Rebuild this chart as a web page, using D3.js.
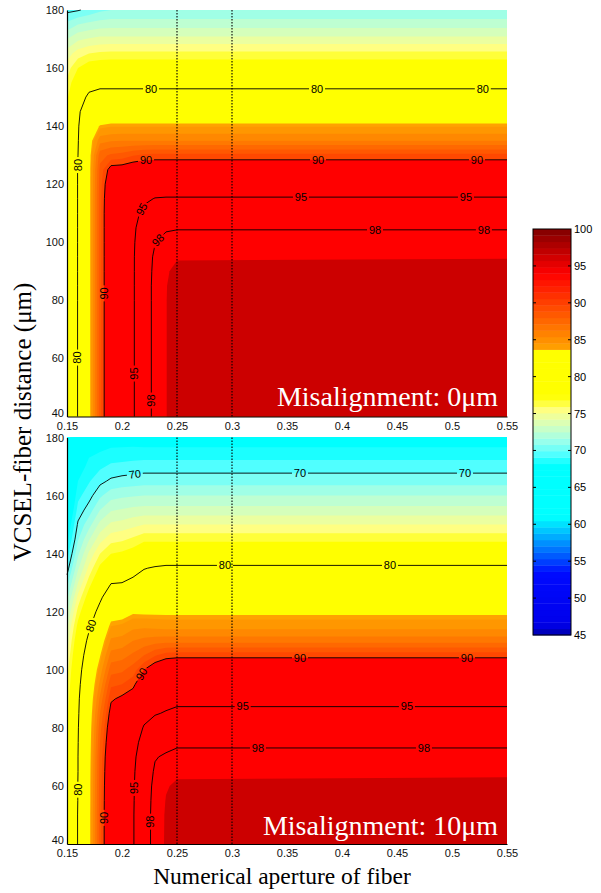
<!DOCTYPE html>
<html>
<head>
<meta charset="utf-8">
<title>Coupling efficiency vs NA and distance</title>
<script src="https://cdn.jsdelivr.net/npm/d3@7"></script>
<style>
  body { margin: 0; background: #fff; }
  svg { display: block; }
</style>
</head>
<body>
<script>
// grid columns (numerical aperture) shared by both panels
var naCols = [0.15, 0.16, 0.17, 0.18, 0.19, 0.20, 0.21, 0.22, 0.23, 0.24, 0.25, 0.55];

// misalignment 0um : rows of efficiency (%) for each distance
var distRows0 = [40, 80, 85, 90, 95, 100, 105, 110, 115, 120, 125, 130, 135, 140, 145, 150, 155, 160, 165, 170, 175, 180];
var eff0 = [
  [77.5, 80.1, 83.0, 88.6, 92.3, 93.9, 94.7, 97.2, 98.4, 98.98, 99.3, 99.4],
  [77.5, 80.1, 83.0, 88.6, 92.3, 93.9, 94.7, 97.2, 98.4, 98.98, 99.3, 99.4],
  [77.5, 80.1, 83.0, 88.6, 92.3, 93.9, 94.7, 97.2, 98.4, 98.97, 99.28, 99.35],
  [77.5, 80.1, 83.0, 88.6, 92.3, 93.9, 94.7, 97.15, 98.35, 98.93, 99.15, 99.2],
  [77.5, 80.1, 83.0, 88.6, 92.3, 93.9, 94.7, 97.1, 98.25, 98.82, 98.95, 98.97],
  [77.5, 80.1, 83.0, 88.6, 92.3, 93.9, 94.6, 97.0, 97.95, 98.5, 98.6, 98.6],
  [77.5, 80.1, 83.0, 88.6, 92.3, 93.9, 94.4, 96.6, 97.4, 97.8, 97.9, 97.9],
  [77.5, 80.1, 83.0, 88.6, 92.3, 93.8, 94.0, 95.7, 96.4, 96.6, 96.6, 96.6],
  [77.5, 80.1, 83.0, 88.6, 92.1, 93.4, 93.6, 94.5, 95.1, 95.2, 95.2, 95.2],
  [77.5, 80.1, 83.0, 88.5, 91.7, 92.4, 92.8, 93.2, 93.4, 93.4, 93.4, 93.4],
  [77.5, 80.1, 83.0, 88.3, 90.7, 90.8, 91.2, 91.4, 91.5, 91.5, 91.5, 91.5],
  [77.5, 80.0, 82.9, 87.6, 88.2, 88.4, 88.9, 89.2, 89.3, 89.3, 89.3, 89.3],
  [77.45, 79.9, 82.8, 85.6, 85.9, 86.0, 86.0, 86.0, 86.0, 86.0, 86.0, 86.0],
  [77.4, 79.8, 82.5, 83.7, 83.9, 83.9, 83.9, 83.9, 83.9, 83.9, 83.9, 83.9],
  [77.2, 79.6, 81.6, 82.2, 82.2, 82.2, 82.2, 82.2, 82.2, 82.2, 82.2, 82.2],
  [76.8, 79.0, 80.4, 80.8, 80.8, 80.8, 80.8, 80.8, 80.8, 80.8, 80.8, 80.8],
  [76.2, 78.2, 79.2, 79.4, 79.4, 79.4, 79.4, 79.4, 79.4, 79.4, 79.4, 79.4],
  [75.5, 77.0, 77.8, 78.0, 78.0, 78.0, 78.0, 78.0, 78.0, 78.0, 78.0, 78.0],
  [74.5, 75.5, 76.0, 76.2, 76.3, 76.3, 76.3, 76.3, 76.3, 76.3, 76.3, 76.3],
  [73.0, 73.8, 74.1, 74.3, 74.3, 74.3, 74.3, 74.3, 74.3, 74.3, 74.3, 74.3],
  [71.3, 72.0, 72.3, 72.5, 72.6, 72.6, 72.6, 72.6, 72.6, 72.6, 72.6, 72.6],
  [69.7, 69.9, 70.3, 70.8, 71.0, 71.0, 71.0, 71.0, 71.0, 71.0, 71.0, 71.0]
];

// misalignment 10um
var distRows10 = [40, 50, 55, 60, 65, 70, 75, 80, 85, 90, 95, 100, 105, 110, 115, 120, 125, 130, 135, 140, 145, 150, 155, 160, 165, 170, 175, 180];
var eff10 = [
  [77.5, 80.1, 83.0, 88.6, 92.3, 93.9, 94.8, 97.2, 98.55, 99.1, 99.3, 99.4],
  [77.5, 80.1, 83.0, 88.6, 92.3, 93.9, 94.8, 97.2, 98.55, 99.08, 99.28, 99.35],
  [77.45, 80.05, 82.95, 88.55, 92.25, 93.85, 94.75, 97.15, 98.5, 99.03, 99.22, 99.3],
  [77.4, 80.05, 82.95, 88.5, 92.2, 93.8, 94.7, 97.1, 98.4, 98.95, 99.1, 99.15],
  [77.3, 80.0, 82.9, 88.4, 92.1, 93.7, 94.6, 96.9, 98.2, 98.7, 98.88, 98.9],
  [77.2, 80.0, 82.8, 88.3, 91.9, 93.5, 94.4, 96.6, 97.9, 98.2, 98.4, 98.4],
  [77.05, 79.95, 82.7, 88.0, 91.6, 93.1, 94.0, 96.0, 97.3, 97.5, 97.75, 97.75],
  [76.9, 79.9, 82.6, 87.6, 91.2, 92.5, 93.4, 95.2, 96.3, 96.5, 96.6, 96.6],
  [76.7, 79.8, 82.4, 87.0, 90.6, 91.6, 92.5, 94.2, 94.8, 95.2, 95.6, 95.6],
  [76.4, 79.7, 82.2, 86.2, 89.8, 90.3, 91.0, 93.0, 93.7, 94.1, 94.3, 94.3],
  [76.0, 79.5, 81.9, 85.3, 88.8, 89.0, 89.6, 91.6, 92.6, 93.1, 93.3, 93.3],
  [75.6, 79.2, 81.6, 84.4, 87.6, 87.8, 88.5, 90.0, 91.1, 91.6, 91.9, 91.9],
  [75.0, 78.8, 81.1, 83.5, 86.4, 86.6, 87.2, 88.0, 88.9, 89.5, 89.6, 89.6],
  [74.4, 78.2, 80.5, 82.6, 85.2, 85.4, 86.0, 86.3, 86.5, 86.6, 86.6, 86.6],
  [73.7, 77.4, 79.7, 81.7, 84.0, 84.2, 84.7, 84.8, 84.7, 84.6, 84.6, 84.6],
  [72.8, 76.4, 78.8, 80.7, 82.8, 82.9, 83.4, 83.3, 83.3, 83.3, 83.3, 83.3],
  [71.7, 75.3, 77.7, 79.6, 81.4, 81.5, 82.2, 82.2, 82.4, 82.6, 82.6, 82.6],
  [70.6, 74.0, 76.5, 78.5, 79.9, 80.0, 80.6, 81.1, 81.4, 81.6, 81.6, 81.6],
  [69.5, 72.8, 75.3, 77.3, 78.4, 78.5, 79.0, 79.9, 80.2, 80.4, 80.4, 80.4],
  [68.5, 71.8, 74.2, 76.0, 77.0, 77.2, 77.6, 78.3, 78.3, 78.3, 78.3, 78.3],
  [67.6, 70.9, 72.9, 74.6, 75.6, 75.8, 76.2, 76.7, 76.7, 76.7, 76.7, 76.7],
  [66.8, 70.2, 71.6, 73.3, 74.2, 74.4, 74.7, 75.0, 75.0, 75.0, 75.0, 75.0],
  [66.0, 69.4, 70.5, 72.0, 72.9, 73.1, 73.3, 73.4, 73.4, 73.4, 73.4, 73.4],
  [65.3, 68.7, 69.6, 70.8, 71.6, 71.8, 71.9, 72.0, 72.0, 72.0, 72.0, 72.0],
  [64.6, 68.0, 68.9, 69.7, 70.2, 70.4, 70.5, 70.6, 70.6, 70.6, 70.6, 70.6],
  [64.0, 67.4, 68.3, 68.8, 69.2, 69.3, 69.4, 69.5, 69.5, 69.5, 69.5, 69.5],
  [63.4, 66.9, 67.8, 68.0, 68.3, 68.35, 68.4, 68.4, 68.4, 68.4, 68.4, 68.4],
  [62.8, 66.4, 67.3, 67.2, 67.3, 67.3, 67.3, 67.2, 67.2, 67.2, 67.2, 67.2]
];

// colormap
var cmapStops = [45, 46.5, 53.5, 54.5, 60, 61, 68, 69.5, 71, 72.5, 74, 75.5, 77, 77.5, 83.6, 83.65, 94, 100];
var cmapColors = ["#0000aa", "#0000eb", "#000aff", "#0032ff", "#00e1ff", "#00ffff", "#00ffff", "#50ffff",
                  "#91fff0", "#beffd2", "#e1ffaf", "#ffff82", "#ffff14", "#ffff00", "#ffff00", "#ffa500",
                  "#ff0000", "#800000"];

var xTicks = [0.15, 0.2, 0.25, 0.3, 0.35, 0.4, 0.45, 0.5, 0.55];
var yTicks = [40, 60, 80, 100, 120, 140, 160, 180];
var cbTicks = [45, 50, 55, 60, 65, 70, 75, 80, 85, 90, 95, 100];
var lineLevels = [70, 80, 90, 95, 98];
var dottedNA = [0.25, 0.3];

// contour labels: level, approx NA, approx distance
var labels0 = [
  [80, 0.2264, 153], [80, 0.3773, 153], [80, 0.528, 153], [80, 0.16, 126.6], [80, 0.16, 60.3],
  [90, 0.2218, 128.5], [90, 0.3782, 128.5], [90, 0.5227, 128.5], [90, 0.1838, 82.4],
  [95, 0.3627, 115.6], [95, 0.5127, 115.6], [95, 0.2175, 111.5], [95, 0.2112, 54.8],
  [98, 0.43, 104.4], [98, 0.529, 104.4], [98, 0.232, 101], [98, 0.2267, 45.5]
];
var labels10 = [
  [70, 0.2118, 167], [70, 0.3618, 167], [70, 0.5118, 167],
  [80, 0.2936, 136.3], [80, 0.4436, 136.3], [80, 0.1748, 114.8], [80, 0.1609, 58.7],
  [90, 0.3618, 104.5], [90, 0.5136, 104.5], [90, 0.2194, 98.2], [90, 0.1838, 49],
  [95, 0.3097, 87], [95, 0.459, 87], [95, 0.2115, 59.3],
  [98, 0.3236, 73.2], [98, 0.4745, 73.2], [98, 0.2262, 47.7]
];

var W = 601, H = 893;
var sans = "'Liberation Sans', Arial, Helvetica, sans-serif";
var serif = "'Liberation Serif', 'Times New Roman', serif";

var cmap = d3.scaleLinear().domain(cmapStops).range(cmapColors).interpolate(d3.interpolateRgb).clamp(true);

// fill levels like matlab contourf (1% steps, coarse at the top)
var fillLevels = d3.range(60, 90).concat([83.6, 90, 99]).sort(d3.ascending);
function bandColor(i) {
  var t = fillLevels[i], next = fillLevels[i + 1] || 100;
  if (t >= 99) return cmap(96.4);
  if (t >= 90) return cmap(94);
  return cmap((t + next) / 2);
}

var svg = d3.select("body").append("svg").attr("width", W).attr("height", H);
var defs = svg.append("defs");

var x = d3.scaleLinear().domain([0.15, 0.55]).range([67, 507]);

var panels = [
  { rows: distRows0, grid: eff0, top: 10, bottom: 416.5, labels: labels0, title: "Misalignment: 0μm", base: 406 },
  { rows: distRows10, grid: eff10, top: 437.5, bottom: 844, labels: labels10, title: "Misalignment: 10μm", base: 835 }
];

var n = naCols.length;
var colIdx = d3.scaleLinear().domain(d3.range(n)).range(naCols);

panels.forEach(function(p, k) {
  var m = p.rows.length;
  var y = d3.scaleLinear().domain([40, 180]).range([p.bottom, p.top]);
  var rowIdx = d3.scaleLinear().domain(d3.range(m)).range(p.rows);

  // d3.contours puts grid value i at i + 0.5
  function proj(gx, gy) {
    var c = Math.max(0, Math.min(n - 1, gx - 0.5));
    var r = Math.max(0, Math.min(m - 1, gy - 0.5));
    return [x(colIdx(c)), y(rowIdx(r))];
  }
  var path = d3.geoPath(d3.geoTransform({
    point: function(a, b) { var q = proj(a, b); this.stream.point(q[0], q[1]); }
  }));

  var values = [].concat.apply([], p.grid);
  var contours = d3.contours().size([n, m]);

  var g = svg.append("g");
  g.selectAll("path.band")
    .data(contours.thresholds(fillLevels)(values))
    .enter().append("path")
    .attr("class", "band")
    .attr("d", path)
    .attr("fill", function(d, i) { return bandColor(i); })
    .attr("fill-rule", "evenodd");

  // contour lines, skipping the parts that run along the grid border
  function onEdge(a, b) {
    return (a[0] <= 0.5 && b[0] <= 0.5) || (a[0] >= n - 0.5 && b[0] >= n - 0.5) ||
           (a[1] <= 0.5 && b[1] <= 0.5) || (a[1] >= m - 0.5 && b[1] >= m - 0.5);
  }
  var lines = {};
  contours.thresholds(lineLevels)(values).forEach(function(c) {
    var segs = [];
    c.coordinates.forEach(function(poly) {
      poly.forEach(function(ring) {
        var cur = null;
        for (var i = 1; i < ring.length; i++) {
          var a = ring[i - 1], b = ring[i];
          if (onEdge(a, b)) { cur = null; continue; }
          if (!cur) { cur = [proj(a[0], a[1])]; segs.push(cur); }
          cur.push(proj(b[0], b[1]));
        }
      });
    });
    lines[c.value] = segs;
  });

  // snap labels onto their line and take its direction
  var placed = p.labels.map(function(l) {
    var tx = x(l[1]), ty = y(l[2]);
    var best = null;
    lines[l[0]].forEach(function(seg) {
      for (var i = 1; i < seg.length; i++) {
        var a = seg[i - 1], b = seg[i];
        var dx = b[0] - a[0], dy = b[1] - a[1];
        var len2 = dx * dx + dy * dy;
        if (len2 === 0) continue;
        var t = Math.max(0, Math.min(1, ((tx - a[0]) * dx + (ty - a[1]) * dy) / len2));
        var px = a[0] + t * dx, py = a[1] + t * dy;
        var dist = (px - tx) * (px - tx) + (py - ty) * (py - ty);
        if (!best || dist < best.dist) best = { dist: dist, x: px, y: py, ang: Math.atan2(dy, dx) * 180 / Math.PI };
      }
    });
    var ang = best.ang;
    while (ang >= 60) ang -= 180;
    while (ang < -120) ang += 180;
    if (Math.abs(ang + 90) < 12) ang = -90;
    if (Math.abs(ang) < 6) ang = 0;
    return { text: String(l[0]), x: best.x, y: best.y, ang: ang };
  });

  var mask = defs.append("mask").attr("id", "gap" + k)
    .attr("maskUnits", "userSpaceOnUse")
    .attr("x", 0).attr("y", 0).attr("width", W).attr("height", H);
  mask.append("rect").attr("width", W).attr("height", H).attr("fill", "#fff");
  mask.selectAll("rect.hole").data(placed).enter().append("rect")
    .attr("class", "hole")
    .attr("x", -8).attr("y", -5).attr("width", 16).attr("height", 10)
    .attr("fill", "#000")
    .attr("transform", function(d) { return "translate(" + d.x + "," + d.y + ") rotate(" + d.ang + ")"; });

  var lineGen = d3.line();
  var lg = svg.append("g").attr("mask", "url(#gap" + k + ")");
  lineLevels.forEach(function(lv) {
    lg.selectAll(null).data(lines[lv]).enter().append("path")
      .attr("d", lineGen)
      .attr("fill", "none")
      .attr("stroke", "#000")
      .attr("stroke-width", 0.9);
  });

  svg.append("g").selectAll("text").data(placed).enter().append("text")
    .attr("transform", function(d) { return "translate(" + d.x + "," + d.y + ") rotate(" + d.ang + ")"; })
    .attr("text-anchor", "middle")
    .attr("dy", "0.35em")
    .attr("font-family", sans)
    .attr("font-size", 11)
    .text(function(d) { return d.text; });

  // dotted reference lines
  svg.append("g").selectAll("line").data(dottedNA).enter().append("line")
    .attr("x1", function(d) { return x(d); }).attr("x2", function(d) { return x(d); })
    .attr("y1", p.top).attr("y2", p.bottom)
    .attr("stroke", "#000").attr("stroke-width", 1.1)
    .attr("stroke-dasharray", "1.5,1.5");

  var ax = svg.append("g").attr("transform", "translate(0," + p.bottom + ")")
    .call(d3.axisBottom(x).tickValues(xTicks).tickSize(0).tickPadding(5.5).tickFormat(d3.format("")));
  var ay = svg.append("g").attr("transform", "translate(" + x(0.15) + ",0)")
    .call(d3.axisLeft(y).tickValues(yTicks).tickSize(0).tickPadding(3));
  [ax, ay].forEach(function(a) {
    a.attr("font-family", sans).attr("font-size", 11);
    a.select(".domain").attr("stroke", "#000").attr("stroke-width", 1.2);
    a.selectAll("text").attr("fill", "#111");
  });
  // keep the bottom distance label clear of the first NA label
  ay.selectAll(".tick text").filter(function(d) { return d === 40; }).attr("y", -4);

  svg.append("text")
    .attr("x", 498).attr("y", p.base)
    .attr("text-anchor", "end")
    .attr("font-family", serif)
    .attr("font-size", 28)
    .attr("fill", "#fff")
    .text(p.title);
});

// colorbar
var cbY = d3.scaleLinear().domain([45, 100]).range([635, 229]);
var cbX0 = 533, cbX1 = 571;
var nColors = 64, step = 55 / nColors;
var cb = svg.append("g");
cb.selectAll("rect").data(d3.range(nColors)).enter().append("rect")
  .attr("x", cbX0)
  .attr("width", cbX1 - cbX0)
  .attr("y", function(i) { return cbY(45 + (i + 1) * step); })
  .attr("height", function(i) { return cbY(45 + i * step) - cbY(45 + (i + 1) * step) + 0.4; })
  .attr("fill", function(i) { return cmap(45 + (i + 0.5) * step); });
cb.append("rect")
  .attr("x", cbX0).attr("y", cbY(100))
  .attr("width", cbX1 - cbX0).attr("height", cbY(45) - cbY(100))
  .attr("fill", "none").attr("stroke", "#000").attr("stroke-width", 1);
cb.selectAll("line.tk").data(cbTicks.slice(1, -1)).enter().append("path")
  .attr("class", "tk")
  .attr("d", function(v) {
    var yy = cbY(v);
    return "M" + cbX0 + "," + yy + "h3M" + cbX1 + "," + yy + "h-3";
  })
  .attr("stroke", "#000").attr("stroke-width", 1);
var cba = svg.append("g").attr("transform", "translate(" + cbX1 + ",0)")
  .call(d3.axisRight(cbY).tickValues(cbTicks).tickSize(0).tickPadding(3));
cba.attr("font-family", sans).attr("font-size", 11);
cba.select(".domain").remove();

// axis titles
svg.append("text")
  .attr("transform", "translate(31,422) rotate(-90)")
  .attr("text-anchor", "middle")
  .attr("font-family", serif)
  .attr("font-size", 25)
  .text("VCSEL-fiber distance (μm)");
svg.append("text")
  .attr("x", 282).attr("y", 884)
  .attr("text-anchor", "middle")
  .attr("font-family", serif)
  .attr("font-size", 23.5)
  .text("Numerical aperture of fiber");
</script>
</body>
</html>
